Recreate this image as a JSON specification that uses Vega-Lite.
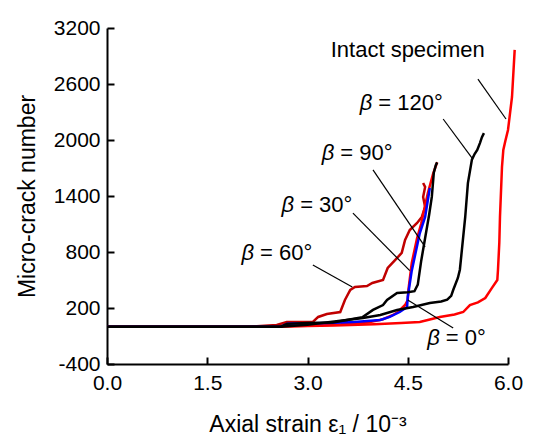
{
  "$schema": "https://vega.github.io/schema/vega-lite/v6.json",
  "width": 401,
  "height": 336,
  "autosize": "none",
  "padding": {"left": 107, "top": 28, "right": 33, "bottom": 72},
  "background": "white",
  "config": {
    "view": {"stroke": null},
    "font": "Liberation Sans",
    "axis": {
      "grid": false,
      "domainColor": "black",
      "domainWidth": 2,
      "tickColor": "black",
      "tickWidth": 2,
      "tickSize": -7,
      "labelFlush": false,
      "labelFont": "Liberation Sans",
      "labelFontSize": 21,
      "labelColor": "black",
      "titleFont": "Liberation Sans",
      "titleFontSize": 23,
      "titleFontWeight": "normal",
      "titleColor": "black"
    }
  },
  "datasets": {
    "curves": [
      {"s": "Intact", "x": 0, "y": 0}, {"s": "Intact", "x": 2.0, "y": 0}, {"s": "Intact", "x": 2.6, "y": 3}, {"s": "Intact", "x": 3.0, "y": 6}, {"s": "Intact", "x": 3.4, "y": 12}, {"s": "Intact", "x": 4.0, "y": 25}, {"s": "Intact", "x": 4.4, "y": 38}, {"s": "Intact", "x": 4.68, "y": 50}, {"s": "Intact", "x": 4.98, "y": 104}, {"s": "Intact", "x": 5.2, "y": 130}, {"s": "Intact", "x": 5.33, "y": 157}, {"s": "Intact", "x": 5.43, "y": 232}, {"s": "Intact", "x": 5.55, "y": 260}, {"s": "Intact", "x": 5.66, "y": 307}, {"s": "Intact", "x": 5.76, "y": 415}, {"s": "Intact", "x": 5.84, "y": 500}, {"s": "Intact", "x": 5.85, "y": 607}, {"s": "Intact", "x": 5.87, "y": 900}, {"s": "Intact", "x": 5.88, "y": 1175}, {"s": "Intact", "x": 5.91, "y": 1711}, {"s": "Intact", "x": 5.93, "y": 1893}, {"s": "Intact", "x": 5.96, "y": 1990}, {"s": "Intact", "x": 6.0, "y": 2108}, {"s": "Intact", "x": 6.06, "y": 2461}, {"s": "Intact", "x": 6.1, "y": 2965},
      {"s": "b60", "x": 0, "y": 0}, {"s": "b60", "x": 2.1, "y": 0}, {"s": "b60", "x": 2.24, "y": 5}, {"s": "b60", "x": 2.54, "y": 18}, {"s": "b60", "x": 2.69, "y": 50}, {"s": "b60", "x": 3.08, "y": 50}, {"s": "b60", "x": 3.16, "y": 104}, {"s": "b60", "x": 3.29, "y": 136}, {"s": "b60", "x": 3.49, "y": 157}, {"s": "b60", "x": 3.56, "y": 286}, {"s": "b60", "x": 3.64, "y": 393}, {"s": "b60", "x": 3.71, "y": 425}, {"s": "b60", "x": 3.89, "y": 436}, {"s": "b60", "x": 3.97, "y": 468}, {"s": "b60", "x": 4.13, "y": 500}, {"s": "b60", "x": 4.2, "y": 629}, {"s": "b60", "x": 4.31, "y": 714}, {"s": "b60", "x": 4.41, "y": 790}, {"s": "b60", "x": 4.46, "y": 929}, {"s": "b60", "x": 4.53, "y": 1036}, {"s": "b60", "x": 4.64, "y": 1111}, {"s": "b60", "x": 4.71, "y": 1175}, {"s": "b60", "x": 4.76, "y": 1282}, {"s": "b60", "x": 4.73, "y": 1389}, {"s": "b60", "x": 4.76, "y": 1496}, {"s": "b60", "x": 4.73, "y": 1539},
      {"s": "b0", "x": 0, "y": 0}, {"s": "b0", "x": 2.4, "y": 0}, {"s": "b0", "x": 3.0, "y": 10}, {"s": "b0", "x": 3.5, "y": 25}, {"s": "b0", "x": 3.9, "y": 45}, {"s": "b0", "x": 4.13, "y": 80}, {"s": "b0", "x": 4.28, "y": 125}, {"s": "b0", "x": 4.35, "y": 157}, {"s": "b0", "x": 4.43, "y": 211}, {"s": "b0", "x": 4.46, "y": 232}, {"s": "b0", "x": 4.5, "y": 286}, {"s": "b0", "x": 4.51, "y": 393}, {"s": "b0", "x": 4.56, "y": 682}, {"s": "b0", "x": 4.64, "y": 950}, {"s": "b0", "x": 4.7, "y": 1100}, {"s": "b0", "x": 4.8, "y": 1430}, {"s": "b0", "x": 4.88, "y": 1640}, {"s": "b0", "x": 4.94, "y": 1762},
      {"s": "b30", "x": 0, "y": 0}, {"s": "b30", "x": 2.6, "y": 0}, {"s": "b30", "x": 2.7, "y": 30}, {"s": "b30", "x": 3.3, "y": 40}, {"s": "b30", "x": 3.7, "y": 50}, {"s": "b30", "x": 4.09, "y": 72}, {"s": "b30", "x": 4.23, "y": 104}, {"s": "b30", "x": 4.38, "y": 157}, {"s": "b30", "x": 4.49, "y": 211}, {"s": "b30", "x": 4.5, "y": 318}, {"s": "b30", "x": 4.56, "y": 600}, {"s": "b30", "x": 4.62, "y": 800}, {"s": "b30", "x": 4.68, "y": 1000}, {"s": "b30", "x": 4.76, "y": 1175}, {"s": "b30", "x": 4.83, "y": 1486},
      {"s": "b90", "x": 0, "y": 0}, {"s": "b90", "x": 2.6, "y": 0}, {"s": "b90", "x": 2.69, "y": 30}, {"s": "b90", "x": 3.0, "y": 38}, {"s": "b90", "x": 3.38, "y": 45}, {"s": "b90", "x": 3.82, "y": 100}, {"s": "b90", "x": 3.98, "y": 180}, {"s": "b90", "x": 4.13, "y": 232}, {"s": "b90", "x": 4.19, "y": 286}, {"s": "b90", "x": 4.34, "y": 361}, {"s": "b90", "x": 4.5, "y": 368}, {"s": "b90", "x": 4.6, "y": 380}, {"s": "b90", "x": 4.65, "y": 450}, {"s": "b90", "x": 4.7, "y": 700}, {"s": "b90", "x": 4.76, "y": 950}, {"s": "b90", "x": 4.82, "y": 1200}, {"s": "b90", "x": 4.86, "y": 1390}, {"s": "b90", "x": 4.89, "y": 1650}, {"s": "b90", "x": 4.92, "y": 1730}, {"s": "b90", "x": 4.94, "y": 1760},
      {"s": "b120", "x": 0, "y": 0}, {"s": "b120", "x": 2.6, "y": 0}, {"s": "b120", "x": 3.0, "y": 20}, {"s": "b120", "x": 3.34, "y": 50}, {"s": "b120", "x": 3.83, "y": 93}, {"s": "b120", "x": 4.09, "y": 125}, {"s": "b120", "x": 4.34, "y": 179}, {"s": "b120", "x": 4.58, "y": 211}, {"s": "b120", "x": 4.83, "y": 254}, {"s": "b120", "x": 5.0, "y": 270}, {"s": "b120", "x": 5.09, "y": 290}, {"s": "b120", "x": 5.15, "y": 330}, {"s": "b120", "x": 5.18, "y": 393}, {"s": "b120", "x": 5.25, "y": 522}, {"s": "b120", "x": 5.28, "y": 610}, {"s": "b120", "x": 5.31, "y": 822}, {"s": "b120", "x": 5.36, "y": 1175}, {"s": "b120", "x": 5.4, "y": 1538}, {"s": "b120", "x": 5.46, "y": 1790}, {"s": "b120", "x": 5.5, "y": 1850}, {"s": "b120", "x": 5.54, "y": 1893}, {"s": "b120", "x": 5.58, "y": 1967}, {"s": "b120", "x": 5.61, "y": 2030}, {"s": "b120", "x": 5.64, "y": 2074}
    ],
    "plainlabels": [
      {"t": "Intact specimen", "x": 4.5, "y": 2965}
    ],
    "betalabels": [
      {"t": "= 120°", "x": 4.06, "y": 2393},
      {"t": "= 90°", "x": 3.49, "y": 1859},
      {"t": "= 30°", "x": 2.89, "y": 1304},
      {"t": "= 60°", "x": 2.29, "y": 790},
      {"t": "= 0°", "x": 5.07, "y": -125}
    ],
    "leaders": [
      {"x": 5.55, "y": 2653, "x2": 5.97, "y2": 2225},
      {"x": 5.03, "y": 2225, "x2": 5.46, "y2": 1808},
      {"x": 3.98, "y": 1679, "x2": 4.76, "y2": 854},
      {"x": 3.68, "y": 1216, "x2": 4.53, "y2": 600},
      {"x": 3.08, "y": 661, "x2": 3.67, "y2": 425},
      {"x": 4.5, "y": 286, "x2": 5.18, "y2": -14}
    ]
  },
  "layer": [
    {
      "data": {"name": "curves"},
      "mark": {"type": "line", "strokeWidth": 2.5, "clip": false},
      "encoding": {
        "x": {
          "field": "x", "type": "quantitative",
          "scale": {"domain": [0, 6], "nice": false, "zero": false},
          "axis": {"values": [0, 1.5, 3, 4.5, 6], "format": ".1f", "title": "Axial strain ε₁ / 10⁻³", "labelPadding": 15, "titlePadding": 20}
        },
        "y": {
          "field": "y", "type": "quantitative",
          "scale": {"domain": [-400, 3200], "nice": false, "zero": false},
          "axis": {"values": [-400, 200, 800, 1400, 2000, 2600, 3200], "labelExpr": "'' + datum.value", "title": "Micro-crack number", "labelPadding": 14, "titlePadding": 14}
        },
        "color": {
          "field": "s", "type": "nominal",
          "scale": {"domain": ["Intact", "b60", "b0", "b30", "b90", "b120"], "range": ["#FF0000", "#C00000", "#FF0000", "#0000FF", "#000000", "#000000"]},
          "legend": null
        },
        "order": {"value": null}
      }
    },
    {
      "data": {"name": "leaders"},
      "mark": {"type": "rule", "color": "black", "strokeWidth": 1.2},
      "encoding": {
        "x": {"field": "x", "type": "quantitative"},
        "y": {"field": "y", "type": "quantitative"},
        "x2": {"field": "x2"},
        "y2": {"field": "y2"}
      }
    },
    {
      "data": {"name": "plainlabels"},
      "mark": {"type": "text", "font": "Liberation Sans", "fontSize": 22, "color": "black", "align": "center", "baseline": "middle"},
      "encoding": {
        "x": {"field": "x", "type": "quantitative"},
        "y": {"field": "y", "type": "quantitative"},
        "text": {"field": "t"}
      }
    },
    {
      "data": {"name": "betalabels"},
      "mark": {"type": "text", "font": "Liberation Sans", "fontSize": 22, "color": "black", "align": "left", "baseline": "middle"},
      "encoding": {
        "x": {"field": "x", "type": "quantitative"},
        "y": {"field": "y", "type": "quantitative"},
        "text": {"field": "t"}
      }
    },
    {
      "data": {"name": "betalabels"},
      "mark": {"type": "text", "font": "Liberation Sans", "fontSize": 22, "fontStyle": "italic", "color": "black", "align": "right", "baseline": "middle", "text": "β", "dx": -6},
      "encoding": {
        "x": {"field": "x", "type": "quantitative"},
        "y": {"field": "y", "type": "quantitative"}
      }
    }
  ]
}
